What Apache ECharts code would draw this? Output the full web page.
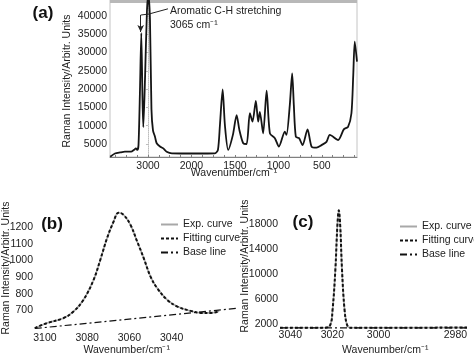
<!DOCTYPE html>
<html>
<head>
<meta charset="utf-8">
<script src="https://cdn.jsdelivr.net/npm/echarts@6/dist/echarts.min.js"></script>
<style>
html, body { margin: 0; padding: 0; background: #fff; }
#chart { width: 474px; height: 354px; }
</style>
</head>
<body>
<div id="chart"></div>
<script>
// panel (a): full spectrum
var WAVE_A = [3870,3760,3640,3530,3390,3320,3280,3245,3218,3184,3154,3126,3108,3069,3023,2989,2954,2920,2885,2839,
  2800,2724,2648,2570,2448,1960,1730,1695,1672,1641,1615,1577,1523,1480,1448,1404,1365,1328,1297,1259,
  1232,1213,1175,1135,1097,1040,994,925,906,868,841,822,799,761,722,664,618,561,503,446,408,312,247,198,159,138,121,95];
var INT_A = [1500,2400,2700,2900,2900,3400,3800,3400,4700,19800,35300,17000,9600,22500,41600,45700,38900,14500,8700,7000,
  5200,4300,3800,2900,2450,2400,2450,3400,10200,19900,10200,3400,7500,12900,8800,5200,5000,13400,11100,16800,
  11100,13800,7900,19600,7900,6600,4300,8400,7500,15700,24300,15700,7000,6600,4700,9000,4300,4000,4700,5600,7500,6100,9000,9700,13400,23900,33000,27500];
var TICKS_X_A = [3000, 2000, 1500, 1000, 500];
var TICKPOS_X_A = [0, 1, 2, 3, 4];
var TICKS_Y_A = [5000, 10000, 15000, 20000, 25000, 30000, 35000, 40000];

// panel (b): 3065 band
var WAVE_B = [3104.8,3099.2,3091.3,3086.5,3081.8,3077,3073.8,3070.6,3067.5,3065.1,3062.7,3059.5,3056.3,3053.2,3050,3046.8,3042.1,3037.3,3031,3026.2,3021.4,3017.5];
var EXP_B = [592,622,652,692,762,882,1003,1134,1234,1288,1274,1214,1113,1013,902,832,762,722,696,684,684,694];
var FIT_B = [592,622,652,692,762,882,1003,1134,1234,1288,1274,1214,1113,1013,902,832,762,722,696,684,684,694];
var BASE_WAVE_B = [3104.8, 3008.6];
var BASE_B = [590, 712];
var TICKS_X_B = [3100, 3080, 3060, 3040];
var TICKS_Y_B = [700, 800, 900, 1000, 1100, 1200];

// panel (c): narrow band
var WAVE_C = [3044.9,3023.5,3021.0,3019.9,3018.7,3017.8,3017.2,3016.6,3015.8,3014.7,3013.6,3012.3,2977];
var EXP_C = [1360,1360,1790,4190,10540,17790,20140,17790,10540,4190,1790,1360,1380];
var FIT_C = [1360,1360,1790,4190,10540,17790,20140,17790,10540,4190,1790,1360,1380];
var BASE_WAVE_C = [3044.9, 2977];
var BASE_C = [1330, 1330];
var TICKS_X_C = [3040, 3020, 3000, 2980];
var TICKPOS_X_C = [0, 1, 2.1, 3.93];
var TICKS_Y_C = [2000, 6000, 10000, 14000, 18000];

var FONT = "'Liberation Sans', Arial, sans-serif";

// the wavenumber axes of (a) and (c) are not linear, map them piecewise
function piecewise(ws, ps) {
  return function (w) {
    var i = 0;
    while (i < ws.length - 2 && w < ws[i + 1]) i++;
    var t = (w - ws[i]) / (ws[i + 1] - ws[i]);
    return ps[i] + t * (ps[i + 1] - ps[i]);
  };
}
var posA = piecewise(TICKS_X_A, TICKPOS_X_A);
var posC = piecewise(TICKS_X_C, TICKPOS_X_C);

function pairs(xs, ys, f) {
  return xs.map(function (x, i) { return [f ? f(x) : x, ys[i]]; });
}
function plain(v) { return String(v); }

var quarterTicks = [];
for (var q = -0.75; q <= 4.75; q += 0.25) quarterTicks.push(q);

var labelStyle = { fontFamily: FONT, fontSize: 10.5, color: '#222' };

function ytitle(x, y) {
  return {
    type: 'text', x: x, y: y, rotation: Math.PI / 2,
    style: { text: 'Raman Intensity/Arbitr. Units', font: '10.5px ' + FONT, fill: '#222', align: 'center', verticalAlign: 'middle' }
  };
}
function xtitle(x, y) {
  return {
    type: 'text', x: x, y: y,
    style: { text: 'Wavenumber/cm\u207B\u00B9', font: '10.5px ' + FONT, fill: '#222', align: 'center', verticalAlign: 'middle' }
  };
}
function panelTag(t, x, y) {
  return {
    type: 'text', x: x, y: y,
    style: { text: t, font: 'bold 17px ' + FONT, fill: '#111', align: 'center', verticalAlign: 'middle' }
  };
}

var legendBase = {
  orient: 'vertical', itemWidth: 17, itemHeight: 10, itemGap: 3,
  itemStyle: { opacity: 0 },
  textStyle: { fontFamily: FONT, fontSize: 10.5, color: '#222' },
  data: ['Exp. curve', 'Fitting curve', 'Base line']
};

var expStyle = { color: '#a8a8a8', width: 1.6 };
var fitStyle = { color: '#111', width: 2, type: [3, 2] };
var baseStyle = { color: '#111', width: 1.2, type: [7, 3, 2, 3] };

var option = {
  animation: false,
  backgroundColor: '#fff',
  grid: [
    { left: 110, top: 0, width: 247, height: 157, show: true, borderColor: '#c4c4c4', borderWidth: 1 },
    { left: 35, top: 205, width: 203, height: 124 },
    { left: 280, top: 205, width: 187, height: 124 }
  ],
  legend: [
    Object.assign({ left: 155, top: 214 }, legendBase),
    Object.assign({ left: 394, top: 216 }, legendBase)
  ],
  xAxis: [
    {
      gridIndex: 0, type: 'value', min: posA(3874), max: posA(95),
      splitLine: { show: false },
      axisLine: { lineStyle: { color: '#808080' } },
      axisTick: { customValues: quarterTicks, inside: true, length: 2, lineStyle: { color: '#808080' } },
      axisLabel: Object.assign({
        customValues: TICKPOS_X_A, margin: 4,
        formatter: function (v) { return String(TICKS_X_A[TICKPOS_X_A.indexOf(v)]); }
      }, labelStyle)
    },
    {
      gridIndex: 1, type: 'value', inverse: true, min: 3008.6, max: 3104.7,
      splitLine: { show: false }, axisLine: { show: false }, axisTick: { show: false },
      axisLabel: Object.assign({ customValues: TICKS_X_B, margin: 4, formatter: plain }, labelStyle)
    },
    {
      gridIndex: 2, type: 'value', min: posC(3044.9), max: posC(2977),
      splitLine: { show: false }, axisLine: { show: false }, axisTick: { show: false },
      axisLabel: Object.assign({
        customValues: TICKPOS_X_C, margin: 1,
        formatter: function (v) { return String(TICKS_X_C[TICKPOS_X_C.indexOf(v)]); }
      }, labelStyle)
    }
  ],
  yAxis: [
    {
      gridIndex: 0, type: 'value', min: 1450, max: 44350,
      splitLine: { show: false },
      axisLine: { show: true, lineStyle: { color: '#bdbdbd', type: 'dotted' } },
      axisTick: { customValues: TICKS_Y_A, length: 2, lineStyle: { color: '#bdbdbd' } },
      axisLabel: Object.assign({ customValues: TICKS_Y_A, margin: 3, formatter: plain }, labelStyle)
    },
    {
      gridIndex: 1, type: 'value', min: 587, max: 1334,
      splitLine: { show: false }, axisLine: { show: false }, axisTick: { show: false },
      axisLabel: Object.assign({ customValues: TICKS_Y_B, margin: 2, formatter: plain }, labelStyle)
    },
    {
      gridIndex: 2, type: 'value', min: 1152, max: 20992,
      splitLine: { show: false }, axisLine: { show: false }, axisTick: { show: false },
      axisLabel: Object.assign({ customValues: TICKS_Y_C, margin: 2, formatter: plain }, labelStyle)
    }
  ],
  series: [
    {
      name: 'spectrum', type: 'line', xAxisIndex: 0, yAxisIndex: 0,
      data: pairs(WAVE_A, INT_A, posA), smooth: 0.25, showSymbol: false, symbol: 'none',
      lineStyle: { color: '#151515', width: 1.8 },
      markLine: {
        silent: true, symbol: 'none', label: { show: false },
        lineStyle: { color: '#222', width: 1, type: 'solid' },
        data: [
          [{ coord: [posA(2540), 41940] }, { coord: [posA(2977), 40520] }],
          [{ coord: [posA(2977), 40520] }, { coord: [posA(3168), 40240] }],
          [{ coord: [posA(3168), 40240] }, { coord: [posA(3168), 35600], symbol: 'arrow', symbolSize: [5, 7] }]
        ]
      }
    },
    {
      name: 'Exp. curve', type: 'line', xAxisIndex: 1, yAxisIndex: 1,
      data: pairs(WAVE_B, EXP_B), smooth: 0.4, symbol: 'none', lineStyle: expStyle, itemStyle: { color: '#a8a8a8' }
    },
    {
      name: 'Fitting curve', type: 'line', xAxisIndex: 1, yAxisIndex: 1,
      data: pairs(WAVE_B, FIT_B), smooth: 0.4, symbol: 'none', lineStyle: fitStyle, itemStyle: { color: '#111' }
    },
    {
      name: 'Base line', type: 'line', xAxisIndex: 1, yAxisIndex: 1, clip: false,
      data: pairs(BASE_WAVE_B, BASE_B), symbol: 'none', lineStyle: baseStyle, itemStyle: { color: '#111' }
    },
    {
      name: 'Exp. curve', type: 'line', xAxisIndex: 2, yAxisIndex: 2,
      data: pairs(WAVE_C, EXP_C, posC), smooth: 0.4, symbol: 'none', lineStyle: expStyle, itemStyle: { color: '#a8a8a8' }
    },
    {
      name: 'Fitting curve', type: 'line', xAxisIndex: 2, yAxisIndex: 2,
      data: pairs(WAVE_C, FIT_C, posC), smooth: 0.4, symbol: 'none', lineStyle: fitStyle, itemStyle: { color: '#111' }
    },
    {
      name: 'Base line', type: 'line', xAxisIndex: 2, yAxisIndex: 2,
      data: pairs(BASE_WAVE_C, BASE_C, posC), symbol: 'none', lineStyle: baseStyle, itemStyle: { color: '#111' }
    }
  ],
  graphic: [
    { type: 'rect', shape: { x: 110, y: 0, width: 247, height: 3 }, style: { fill: '#b8b8b8' } },
    panelTag('(a)', 43, 13.5),
    panelTag('(b)', 52, 224.5),
    panelTag('(c)', 303, 222.5),
    ytitle(67.5, 81),
    ytitle(6, 268),
    ytitle(245, 266),
    xtitle(234, 173),
    xtitle(126.7, 350.3),
    xtitle(385.3, 350.3),
    { type: 'text', x: 170, y: 10.8, style: { text: 'Aromatic C-H stretching', font: '10.5px ' + FONT, fill: '#222', verticalAlign: 'middle' } },
    { type: 'text', x: 170, y: 25, style: { text: '3065 cm\u207B\u00B9', font: '10.5px ' + FONT, fill: '#222', verticalAlign: 'middle' } }
  ]
};

var chart = echarts.init(document.getElementById('chart'));
chart.setOption(option);
</script>
</body>
</html>
